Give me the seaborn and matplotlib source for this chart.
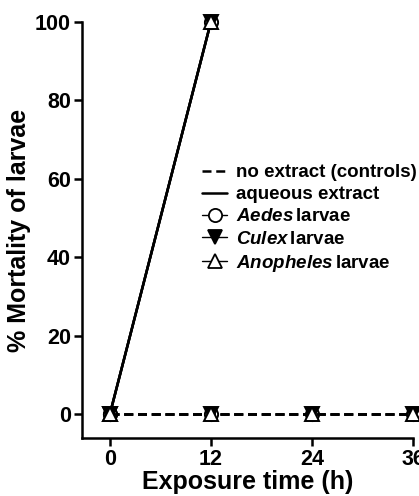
import matplotlib
matplotlib.use("Agg")
import matplotlib.pyplot as plt
import seaborn as sns
from matplotlib.lines import Line2D

# exposure times (h) and % mortality
time_control = [0, 12, 24, 36]
mort_control = [0, 0, 0, 0]
time_extract = [0, 12]
mort_extract = [0, 100]

species = ["Aedes", "Culex", "Anopheles"]
x_ticks = [0, 12, 24, 36]
y_ticks = [0, 20, 40, 60, 80, 100]

sns.set_style("ticks")
plt.rcParams["font.family"] = ["Liberation Sans", "DejaVu Sans"]
plt.rcParams["font.weight"] = "bold"
plt.rcParams["text.color"] = "black"
plt.rcParams["axes.labelcolor"] = "black"
plt.rcParams["mathtext.fontset"] = "custom"
plt.rcParams["mathtext.bfit"] = "Liberation Sans:italic:bold"
plt.rcParams["mathtext.it"] = "Liberation Sans:italic:bold"
plt.rcParams["lines.dashed_pattern"] = (3.6, 1.9)

marker_style = {
    "Aedes": dict(marker="o", markerfacecolor="white", markersize=9.5),
    "Culex": dict(marker="v", markerfacecolor="black", markersize=9.5),
    "Anopheles": dict(marker="^", markerfacecolor="white", markersize=9.5),
}

fig = plt.figure(figsize=(4.19, 4.96), dpi=100)
ax = fig.add_axes([82 / 419, 58 / 496, 331 / 419, 416 / 496])

for sp in species:
    ms = marker_style[sp]
    sns.lineplot(
        x=time_control, y=mort_control, ax=ax, color="black",
        linestyle="--", linewidth=1.8, markeredgecolor="black",
        markeredgewidth=1.4, clip_on=False, **ms,
    )
    sns.lineplot(
        x=time_extract, y=mort_extract, ax=ax, color="black",
        linestyle="-", linewidth=1.8, markeredgecolor="black",
        markeredgewidth=1.4, clip_on=False, **ms,
    )

ax.set_xlim(-3.3, 36)
ax.set_ylim(-6, 100)
ax.set_xticks(x_ticks)
ax.set_yticks(y_ticks)
ax.tick_params(axis="both", direction="out", length=6, width=1.8,
               labelsize=15.5, pad=2, colors="black")
for lab in ax.get_xticklabels() + ax.get_yticklabels():
    lab.set_fontweight("bold")
for side in ["left", "bottom"]:
    ax.spines[side].set_linewidth(1.8)
    ax.spines[side].set_color("black")
sns.despine(ax=ax)

ax.set_xlabel("Exposure time (h)", fontsize=18, fontweight="bold", labelpad=0)
ax.set_ylabel("% Mortality of larvae", fontsize=18, fontweight="bold", labelpad=3)

handles = [
    Line2D([], [], color="black", linestyle="--", linewidth=1.8),
    Line2D([], [], color="black", linestyle="-", linewidth=1.8),
]
labels = ["no extract (controls)", "aqueous extract"]
for sp in species:
    ms = marker_style[sp]
    handles.append(Line2D([], [], color="black", linewidth=1.0,
                          markeredgecolor="black", markeredgewidth=1.3, **ms))
    labels.append(r"$\mathbfit{" + sp + r"}\,$larvae")

leg = ax.legend(
    handles, labels, loc="upper left", bbox_to_anchor=(202 / 419, 1 - 164 / 496),
    bbox_transform=fig.transFigure, frameon=False, borderpad=0, borderaxespad=0,
    handlelength=1.35, handletextpad=0.45, labelspacing=0.27,
    prop={"size": 13.5, "weight": "bold"},
)

fig.savefig("out.png", dpi=100)
